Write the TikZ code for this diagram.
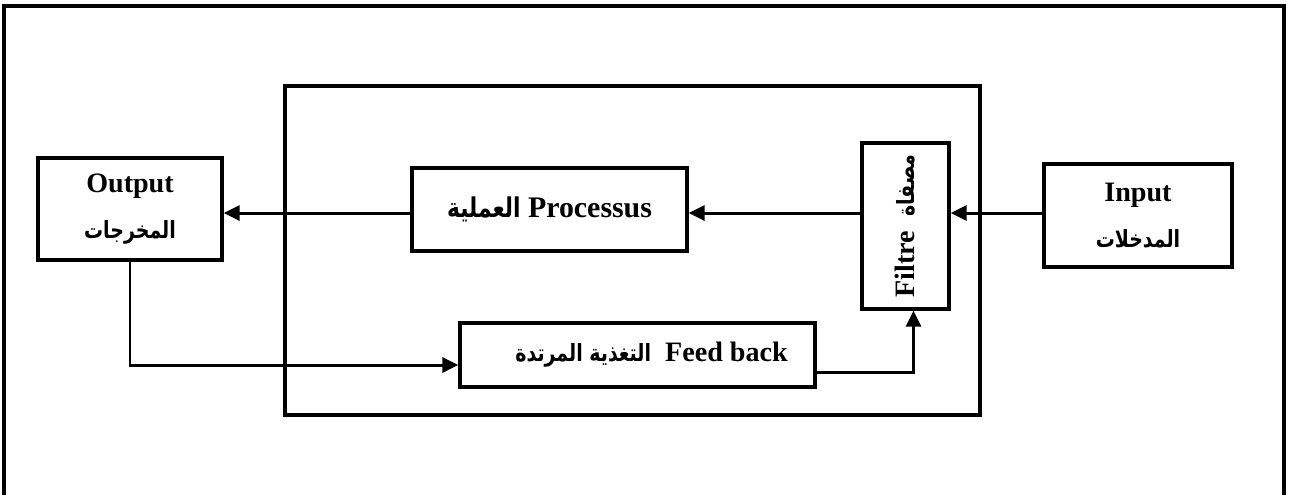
\documentclass[tikz,border=0pt]{standalone}
\usepackage{fontspec}
\usepackage{graphicx}
\setmainfont{Liberation Serif}
\newfontfamily\arabicfont[Script=Arabic,FakeStretch=0.8]{DejaVu Sans}
\TeXXeTstate=1
\usetikzlibrary{arrows.meta}
\newcommand{\ar}[2][13.5]{{\arabicfont\bfseries\fontsize{#1}{#1}\selectfont\beginR #2\endR}}

\begin{document}
\begin{tikzpicture}[x=0.02cm,y=-0.02cm,
  box/.style={draw,line width=2pt,inner sep=0pt,align=center,
    font=\bfseries\fontsize{16}{26}\selectfont},
  frame/.style={draw,line width=1.8pt,inner sep=0pt},
  arr/.style={line width=1.7pt,-{Triangle[length=9pt,width=8.5pt]}},
  ln/.style={line width=1.7pt}]
\useasboundingbox (0,0) rectangle (1290,495);
% outer frame, open at the bottom
\draw [line width=2.2pt] (4,495) -- (4,6) -- (1284,6) -- (1284,495);
% the system
\node [frame,minimum width=13.9cm,minimum height=6.58cm] (sys) at (632.5,250.5) {};
\node [box,minimum width=3.68cm,minimum height=2.04cm] (out) at (130,209)
   {Output\\ \ar{المخرجات}};
\node [box,minimum width=5.5cm,minimum height=1.66cm,
   font=\bfseries\fontsize{17}{24}\selectfont] (proc) at (549.5,209.5)
   {\ar[15.5]{العملية} Processus};
\node [box,minimum width=1.74cm,minimum height=3.32cm] (filt) at (905.5,226)
   {\rotatebox{90}{Filtre\ \ \ar{مصفاة}}};
\node [box,minimum width=3.76cm,minimum height=2.06cm] (inp) at (1138,215.5)
   {Input\\ \ar{المدخلات}};
\node [box,minimum width=7.1cm,minimum height=1.28cm] (fb) at (637.5,355)
   {\hspace{1em}\ar{التغذية المرتدة}\ \ Feed back};
% connectors
\coordinate (lev) at (0,213);
\draw [arr] (inp.west |- lev) -- (filt.east |- lev);
\draw [arr] (filt.west |- lev) -- (proc.east |- lev);
\draw [arr] (proc.west |- lev) -- (out.east |- lev);
\draw [arr] (out.south) |- ([yshift=-0.2cm]fb.west);
\draw [arr] ([yshift=-0.34cm]fb.east) -| ([xshift=0.16cm]filt.south);
\end{tikzpicture}
\end{document}
